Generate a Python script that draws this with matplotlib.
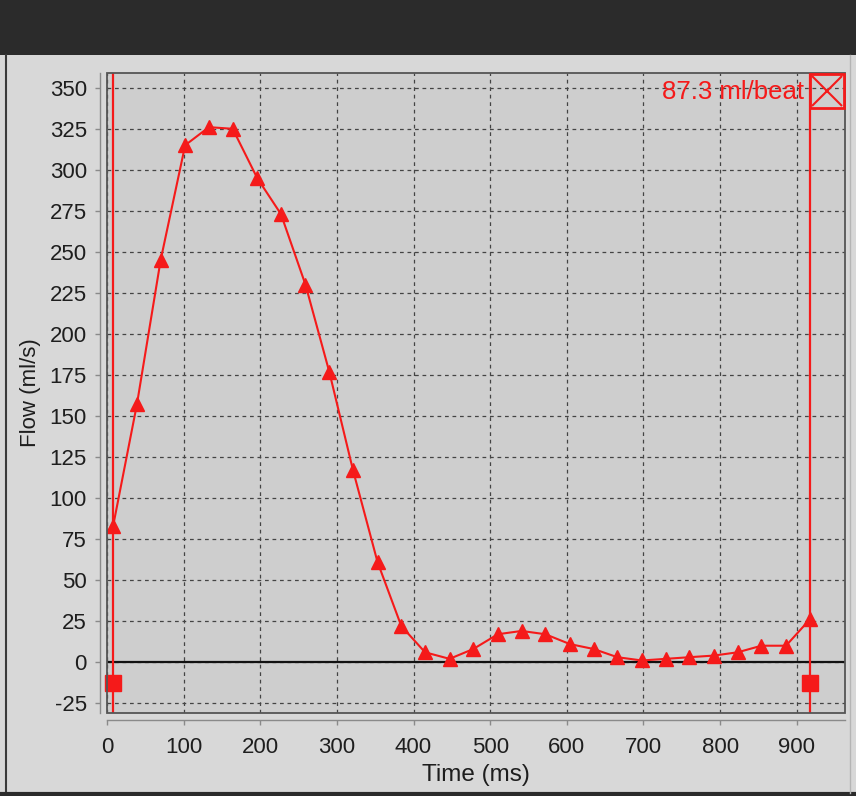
#!/usr/bin/env python3

import matplotlib
matplotlib.use("Agg")
import matplotlib.pyplot as plt
import matplotlib.transforms as mtransforms
from matplotlib.patches import Rectangle
from matplotlib.lines import Line2D

# flow curve (one heart beat)
times_ms = [8, 39, 70, 102, 133, 164, 196, 227, 259, 290, 321, 353, 384, 415, 447,
            478, 510, 541, 572, 604, 635, 666, 698, 729, 760, 792, 823, 854, 886, 917]
flow_mls = [83, 157, 245, 315, 326, 325, 295, 273, 230, 177, 117, 61, 22, 6, 2,
            8, 17, 19, 17, 11, 8, 3, 1, 2, 3, 4, 6, 10, 10, 26]

# integration cursors
cursor_ms = [8, 917]
cursor_handle_y = [-13, -13]
stroke_volume = "87.3 ml/beat"

x_ticks = list(range(0, 1000, 100))
y_ticks = list(range(-25, 375, 25))

RED = "#f51a1a"
plt.rcParams["font.family"] = ["Liberation Sans", "DejaVu Sans"]
plt.rcParams["axes.unicode_minus"] = False

fig = plt.figure(figsize=(8.56, 7.96), dpi=100, facecolor="#d8d8d8")
# dark title strip and frame of the panel
fig.patches.append(Rectangle((0, 1 - 55 / 796), 1, 55 / 796, transform=fig.transFigure,
                             facecolor="#2b2b2b", edgecolor="none", zorder=0))
fig.lines.append(Line2D([6 / 856, 6 / 856], [3 / 796, 1 - 55 / 796], transform=fig.transFigure,
                        color="#3a3a3a", linewidth=1.5))
fig.lines.append(Line2D([0, 1], [2 / 796, 2 / 796], transform=fig.transFigure,
                        color="#2b2b2b", linewidth=3))
fig.lines.append(Line2D([850 / 856, 850 / 856], [3 / 796, 1 - 55 / 796], transform=fig.transFigure,
                        color="#b5b5b5", linewidth=1))

ax = fig.add_axes([107 / 856, 83 / 796, 738 / 856, 640 / 796])
ax.set_facecolor("#cecece")

ax.set_xlim(0, 963)
ax.set_ylim(-31, 359)
ax.set_xticks(x_ticks)
ax.set_yticks(y_ticks)

ax.grid(True, color="#444444", linestyle=(0, (3, 3)), linewidth=0.9)
ax.set_axisbelow(True)
ax.axhline(0, color="#111111", linewidth=1.6, zorder=2)

for spine in ["top", "right"]:
    ax.spines[spine].set_visible(False)
for spine in ["left", "bottom"]:
    ax.spines[spine].set_position(("outward", 5))
    ax.spines[spine].set_color("#8a8a8a")
    ax.spines[spine].set_linewidth(1)
# plot area border
ax.add_patch(Rectangle((0, 0), 1, 1, transform=ax.transAxes, fill=False,
                       edgecolor="#555555", linewidth=1.3, clip_on=False, zorder=5))

ax.tick_params(axis="both", direction="out", length=3.5, width=1, color="#8a8a8a",
               labelsize=16, labelcolor="#1e1e1e")
ax.tick_params(axis="y", pad=6)
ax.tick_params(axis="x", pad=9)

for c in cursor_ms:
    ax.axvline(c, color=RED, linewidth=1.6, zorder=3)
ax.plot(cursor_ms, cursor_handle_y, "s", color=RED, markersize=11, zorder=4,
        clip_on=False)

ax.plot(times_ms, flow_mls, "-^", color=RED, linewidth=1.5, markersize=10, zorder=4)

# close box next to the stroke volume, anchored to the right cursor
trans = mtransforms.blended_transform_factory(ax.transData, ax.transAxes)
box_off = mtransforms.ScaledTranslation(17.5 / 100, -18.5 / 100, fig.dpi_scale_trans)
ax.plot([cursor_ms[1]], [1.0], "s", markersize=24.5, markerfacecolor="none",
        markeredgecolor=RED, markeredgewidth=2, transform=trans + box_off,
        clip_on=False, zorder=6)
ax.plot([cursor_ms[1]], [1.0], "x", markersize=22, markeredgecolor=RED,
        markeredgewidth=1.5, transform=trans + box_off, clip_on=False, zorder=6)
txt_off = mtransforms.ScaledTranslation(-6 / 100, -19 / 100, fig.dpi_scale_trans)
ax.text(cursor_ms[1], 1.0, stroke_volume, color=RED, fontsize=18.5, ha="right",
        va="center", transform=trans + txt_off, zorder=6)

ax.set_xlabel("Time (ms)", fontsize=17.5, color="#1e1e1e", labelpad=4)
ax.set_ylabel("Flow (ml/s)", fontsize=16, color="#1e1e1e", labelpad=6)

fig.savefig("out.png", dpi=100, facecolor=fig.get_facecolor())
